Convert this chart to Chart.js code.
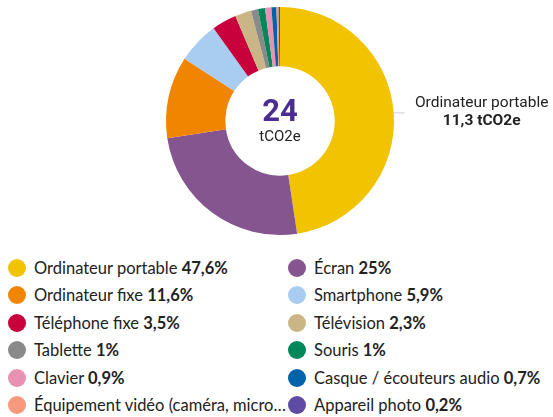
<!DOCTYPE html>
<html lang="fr">
<head>
<meta charset="utf-8">
<script src="https://cdn.jsdelivr.net/npm/chart.js@4"></script>
<style>
    html, body { margin: 0; padding: 0; background: #fff; }
    body { width: 553px; height: 417px; overflow: hidden; position: relative; }
    .chart-box { position: absolute; left: 0; top: 0; width: 553px; height: 245px; }
    .legend {
        position: absolute; left: 8px; top: 254px; width: 545px;
        display: grid; grid-template-columns: 280px 265px; grid-auto-rows: 27.5px;
        font-family: Lato, 'Open Sans', sans-serif; font-size: 16.5px; color: #222;
    }
    .legend-item { display: flex; align-items: center; white-space: nowrap; overflow: hidden; }
    .legend-dot { flex: 0 0 18px; width: 18px; height: 18px; border-radius: 50%; margin-right: 8px; }
    .legend-text { overflow: hidden; text-overflow: ellipsis; white-space: nowrap; }
    .legend-text b { font-weight: 700; }
</style>
</head>
<body>
<div class="chart-box"><canvas id="donutChart"></canvas></div>
<div class="legend" id="legend"></div>

<script>
const labels = ['Ordinateur portable', 'Écran', 'Ordinateur fixe', 'Smartphone', 'Téléphone fixe', 'Télévision',
    'Tablette', 'Souris', 'Clavier', 'Casque / écouteurs audio', 'Équipement vidéo (caméra, micro,...)', 'Appareil photo'];
const shares = [47.6, 25, 11.6, 5.9, 3.5, 2.3, 1, 1, 0.9, 0.7, 0.3, 0.2];
const colors = ['#f2c300', '#85558f', '#f28500', '#a8cdf0', '#c8003c', '#c9b585',
    '#8a8a8a', '#00875a', '#e891b3', '#0062a8', '#f7997c', '#5f4ba3'];
const totalLabel = '24';
const unitLabel = 'tCO2e';
const calloutValue = '11,3 tCO2e';

function fmt(v) { return String(v).replace('.', ','); }

const legendEl = document.getElementById('legend');
labels.forEach(function (lab, i) {
    const item = document.createElement('div');
    item.className = 'legend-item';
    item.innerHTML = '<span class="legend-dot" style="background:' + colors[i] + '"></span>' +
        '<span class="legend-text">' + lab + ' <b>' + fmt(shares[i]) + '%</b></span>';
    legendEl.appendChild(item);
});

const overlay = {
    id: 'overlay',
    afterDraw: function (chart) {
        const ctx = chart.ctx;
        const arc = chart.getDatasetMeta(0).data[0];
        const cx = arc.x, cy = arc.y;

        ctx.save();
        ctx.textAlign = 'center';
        ctx.textBaseline = 'middle';
        ctx.fillStyle = '#4b2c91';
        ctx.font = 'bold 31px Roboto, sans-serif';
        ctx.fillText(totalLabel, cx, cy - 8);
        ctx.fillStyle = '#222';
        ctx.font = '15px Roboto, sans-serif';
        ctx.fillText(unitLabel, cx, cy + 16);

        const mid = (arc.startAngle + arc.endAngle) / 2;
        const x0 = cx + Math.cos(mid) * arc.outerRadius;
        const y0 = cy + Math.sin(mid) * arc.outerRadius;
        ctx.strokeStyle = '#cfcfcf';
        ctx.lineWidth = 1;
        ctx.beginPath();
        ctx.moveTo(x0, y0 + 0.5);
        ctx.lineTo(x0 + 11, y0 + 0.5);
        ctx.stroke();

        ctx.textAlign = 'center';
        ctx.fillStyle = '#222';
        ctx.font = '15.5px Roboto, sans-serif';
        ctx.fillText(labels[0], x0 + 88, y0 - 9);
        ctx.font = 'bold 15.5px Roboto, sans-serif';
        ctx.fillText(calloutValue, x0 + 88, y0 + 9);
        ctx.restore();
    }
};

new Chart(document.getElementById('donutChart'), {
    type: 'doughnut',
    data: {
        labels: labels,
        datasets: [{
            data: shares,
            backgroundColor: colors,
            borderWidth: 0
        }]
    },
    options: {
        responsive: true,
        maintainAspectRatio: false,
        animation: false,
        cutout: '48%',
        layout: { padding: { top: 7, bottom: 10, left: 7, right: 0 } },
        plugins: {
            legend: { display: false },
            tooltip: { enabled: false }
        }
    },
    plugins: [overlay]
});
</script>
</body>
</html>
